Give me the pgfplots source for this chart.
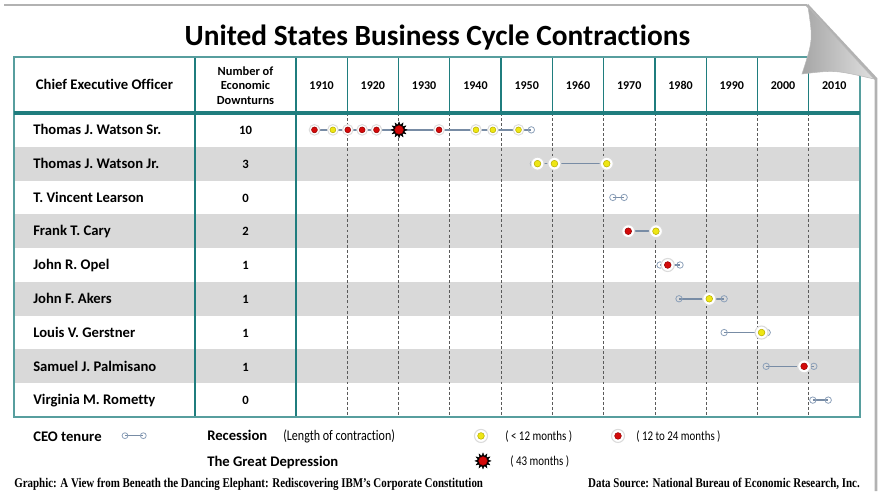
\documentclass[border=0pt]{standalone}
\usepackage{fontspec}
\setmainfont[Ligatures={TeX,NoCommon}]{Carlito}
\newfontfamily\condfont[FakeStretch=0.82,Ligatures={TeX,NoCommon}]{Carlito}
\newfontfamily\footfont[FakeStretch=0.82]{Liberation Serif}
\usepackage{pgfplots}
\pgfplotsset{compat=1.18}
\usepackage{pgfplotstable}

\definecolor{tealc}{RGB}{31,125,126}
\definecolor{rowgray}{RGB}{217,217,217}
\definecolor{gridc}{RGB}{90,90,90}
\definecolor{tenline}{RGB}{120,140,165}
\definecolor{tencirc}{RGB}{140,160,185}
\definecolor{ydot}{RGB}{238,230,20}
\definecolor{ydotrim}{RGB}{185,175,0}
\definecolor{rdot}{RGB}{212,10,10}
\definecolor{rdotrim}{RGB}{150,0,0}

\pgfdeclareplotmark{burst}{%
  \pgfpathmoveto{\pgfpointpolar{0}{\pgfplotmarksize}}%
  \pgfpathlineto{\pgfpointpolar{15}{0.62*\pgfplotmarksize}}%
  \pgfpathlineto{\pgfpointpolar{30}{\pgfplotmarksize}}%
  \pgfpathlineto{\pgfpointpolar{45}{0.62*\pgfplotmarksize}}%
  \pgfpathlineto{\pgfpointpolar{60}{\pgfplotmarksize}}%
  \pgfpathlineto{\pgfpointpolar{75}{0.62*\pgfplotmarksize}}%
  \pgfpathlineto{\pgfpointpolar{90}{\pgfplotmarksize}}%
  \pgfpathlineto{\pgfpointpolar{105}{0.62*\pgfplotmarksize}}%
  \pgfpathlineto{\pgfpointpolar{120}{\pgfplotmarksize}}%
  \pgfpathlineto{\pgfpointpolar{135}{0.62*\pgfplotmarksize}}%
  \pgfpathlineto{\pgfpointpolar{150}{\pgfplotmarksize}}%
  \pgfpathlineto{\pgfpointpolar{165}{0.62*\pgfplotmarksize}}%
  \pgfpathlineto{\pgfpointpolar{180}{\pgfplotmarksize}}%
  \pgfpathlineto{\pgfpointpolar{195}{0.62*\pgfplotmarksize}}%
  \pgfpathlineto{\pgfpointpolar{210}{\pgfplotmarksize}}%
  \pgfpathlineto{\pgfpointpolar{225}{0.62*\pgfplotmarksize}}%
  \pgfpathlineto{\pgfpointpolar{240}{\pgfplotmarksize}}%
  \pgfpathlineto{\pgfpointpolar{255}{0.62*\pgfplotmarksize}}%
  \pgfpathlineto{\pgfpointpolar{270}{\pgfplotmarksize}}%
  \pgfpathlineto{\pgfpointpolar{285}{0.62*\pgfplotmarksize}}%
  \pgfpathlineto{\pgfpointpolar{300}{\pgfplotmarksize}}%
  \pgfpathlineto{\pgfpointpolar{315}{0.62*\pgfplotmarksize}}%
  \pgfpathlineto{\pgfpointpolar{330}{\pgfplotmarksize}}%
  \pgfpathlineto{\pgfpointpolar{345}{0.62*\pgfplotmarksize}}%
  \pgfpathclose
  \pgfusepathqfillstroke}

\pgfplotstableread{
year row
1917.2 1
1945.1 1
1948.4 1
1953.4 1
}\yellowA
\pgfplotstableread{
year row
1957.1 2
1960.4 2
1970.6 2
1980.2 4
1990.6 6
2000.8 7
1946.08 10.06
}\yellowB
\pgfplotstableread{
year row
1913.6 1
1920.1 1
1922.9 1
1925.7 1
1937.9 1
}\redA
\pgfplotstableread{
year row
1974.8 4
1982.5 5
2009.1 8
1972.80 10.06
}\redB
\pgfplotstableread{
year row
1930.1 1
1946.47 10.80
}\stardata

\pgfplotsset{
  tenure/.style={color=tenline, line width=1.1pt, mark=o, mark size=2.4pt,
    mark options={fill=white, draw=tencirc, line width=0.6pt}},
  haloA/.style={only marks, mark=*, mark size=4.0pt,
    mark options={fill=white, draw=black!14, line width=0.7pt}},
  haloB/.style={only marks, mark=*, mark size=4.9pt,
    mark options={fill=white, draw=black!14, line width=0.8pt}},
  ydots/.style={only marks, mark=*, mark size=2.5pt,
    mark options={fill=ydot, draw=ydotrim, line width=0.4pt}},
  rdots/.style={only marks, mark=*, mark size=2.5pt,
    mark options={fill=rdot, draw=rdotrim, line width=0.4pt}},
}

\begin{document}
\begin{tikzpicture}
\begin{axis}[scale only axis, width=634.5pt, height=270pt,
  xmin=1855, xmax=2020, ymin=-1.157, ymax=9.5, y dir=reverse,
  hide axis, clip=false]
% alternating rows
\fill[rowgray] (axis cs:1855,1.5) rectangle (axis cs:2020,2.5);
\fill[rowgray] (axis cs:1855,3.5) rectangle (axis cs:2020,4.5);
\fill[rowgray] (axis cs:1855,5.5) rectangle (axis cs:2020,6.5);
\fill[rowgray] (axis cs:1855,7.5) rectangle (axis cs:2020,8.5);
% grid
\pgfplotsinvokeforeach{1920,1930,1940,1950,1960,1970,1980,1990,2000,2010}{
  \draw[gridc, line width=0.5pt, dash pattern=on 2.2pt off 1.6pt] (axis cs:#1,0.5) -- (axis cs:#1,9.5);
  \draw[tealc, line width=0.9pt] (axis cs:#1,-1.157) -- (axis cs:#1,0.5);
}
\draw[tealc, line width=0.9pt] (axis cs:1890.3,-1.157) -- (axis cs:1890.3,9.5);
\draw[tealc, line width=0.9pt] (axis cs:1910,-1.157) -- (axis cs:1910,9.5);
\draw[tealc!75, line width=0.9pt] (axis cs:1855,-1.157) rectangle (axis cs:2020,9.5);
\draw[tealc, line width=2.4pt] (axis cs:1855,0.5) -- (axis cs:2020,0.5);
% CEO tenures
\addplot[tenure] coordinates {(1914.0,1) (1955.9,1)};
\addplot[tenure] coordinates {(1956.3,2) (1970.8,2)};
\addplot[tenure] coordinates {(1971.8,3) (1974.0,3)};
\addplot[tenure] coordinates {(1974.6,4) (1980.2,4)};
\addplot[tenure] coordinates {(1981.0,5) (1984.9,5)};
\addplot[tenure] coordinates {(1984.7,6) (1993.5,6)};
\addplot[tenure] coordinates {(1993.5,7) (2001.9,7)};
\addplot[tenure] coordinates {(2001.7,8) (2011.0,8)};
\addplot[tenure] coordinates {(2010.8,9) (2013.8,9)};
% legend tenure symbol
\addplot[tenure, line width=0.8pt, mark size=2.2pt] coordinates {(1876.65,10.053) (1880.22,10.053)};
% recessions
\addplot[haloA] table[x=year, y=row] {\yellowA};
\addplot[haloA] table[x=year, y=row] {\redA};
\addplot[haloB] table[x=year, y=row] {\yellowB};
\addplot[haloB] table[x=year, y=row] {\redB};
\addplot[ydots, mark size=2.2pt] table[x=year, y=row] {\yellowA};
\addplot[rdots, mark size=2.2pt] table[x=year, y=row] {\redA};
\addplot[ydots] table[x=year, y=row] {\yellowB};
\addplot[rdots] table[x=year, y=row] {\redB};
% great depression
\addplot[only marks, mark=burst, mark size=6pt, mark options={fill=black, draw=black, line width=0.3pt}] table[x=year, y=row] {\stardata};
\addplot[only marks, mark=*, mark size=3.3pt, mark options={fill=rdot, draw=rdotrim, line width=0.3pt}] table[x=year, y=row] {\stardata};
\end{axis}

\begin{scope}[shift={(-10.5pt,312.75pt)}, x=0.75pt, y=-0.75pt]
% page frame and curl
\draw[gray!60, line width=2.2pt] (4,5) -- (807,5);
\fill[white] (806,1) -- (881,1) -- (881,80) -- (876,80) -- cycle;
\draw[gray!60, line width=2.2pt] (807,5) -- (876,79) -- (876,491);
\shade[left color=gray!70, right color=gray!25, draw=gray!55, line width=0.4pt]
  (808,7) .. controls (813,40) .. (802,74) .. controls (835,70) .. (874,79) -- cycle;
% title
\node[anchor=base, inner sep=0, font=\fontsize{22}{26}\selectfont\bfseries] at (437.5,45.5) {United States Business Cycle Contractions};
% header
\node[anchor=base, inner sep=0, font=\fontsize{11}{12}\selectfont\bfseries] at (104.5,89.3) {Chief Executive Officer};
\node[anchor=base, inner sep=0, font=\fontsize{9.3}{10}\selectfont\bfseries] at (245.5,75) {Number of};
\node[anchor=base, inner sep=0, font=\fontsize{9.3}{10}\selectfont\bfseries] at (245.5,89.5) {Economic};
\node[anchor=base, inner sep=0, font=\fontsize{9.3}{10}\selectfont\bfseries] at (245.5,104) {Downturns};
\foreach \k in {0,...,10}{
  \pgfmathsetmacro\xx{321.6+51.27*\k}
  \pgfmathtruncatemacro\yr{1910+10*\k}
  \node[anchor=base, inner sep=0, font=\fontsize{9}{10}\selectfont\bfseries] at (\xx,89.3) {\yr};
}
% names and counts
\foreach \nm/\cnt/\bl in {Thomas J. Watson Sr./10/134.5, Thomas J. Watson Jr./3/168.3, T. Vincent Learson/0/202.1, Frank T. Cary/2/235.8, John R. Opel/1/269.6, John F. Akers/1/303.4, Louis V. Gerstner/1/337.2, Samuel J. Palmisano/1/371.0, Virginia M. Rometty/0/404.7}{
  \node[anchor=base west, inner sep=0, font=\fontsize{11}{12}\selectfont\bfseries] at (33,\bl) {\nm};
  \node[anchor=base, inner sep=0, font=\fontsize{9.5}{11}\selectfont\bfseries] at (245.5,\bl) {\cnt};
}
% legend
\node[anchor=base west, inner sep=0, font=\fontsize{11}{13}\selectfont\bfseries] at (33,441.5) {CEO tenure};
\node[anchor=base west, inner sep=0, font=\fontsize{11}{13}\selectfont\bfseries] at (207,440.5) {Recession};
\node[anchor=base west, inner sep=0, font=\condfont\fontsize{11}{12}\selectfont] at (283,440.5) {(Length of contraction)};
\node[anchor=base west, inner sep=0, font=\condfont\fontsize{10}{11}\selectfont] at (505,440) {( < 12 months )};
\node[anchor=base west, inner sep=0, font=\condfont\fontsize{10}{11}\selectfont] at (636,440) {( 12 to 24 months )};
\node[anchor=base west, inner sep=0, font=\fontsize{11}{13}\selectfont\bfseries] at (207,466.5) {The Great Depression};
\node[anchor=base west, inner sep=0, font=\condfont\fontsize{10}{11}\selectfont] at (510,465.5) {( 43 months )};
% footer
\node[anchor=base west, inner sep=0, font=\footfont\bfseries\fontsize{10}{11}\selectfont] at (14,487) {Graphic: A View from Beneath the Dancing Elephant: Rediscovering IBM’s Corporate Constitution};
\node[anchor=base east, inner sep=0, font=\footfont\bfseries\fontsize{10}{11}\selectfont] at (860,487) {Data Source: National Bureau of Economic Research, Inc.};
\pgfresetboundingbox
\path[use as bounding box] (0,0) rectangle (881,497);
\end{scope}
\end{tikzpicture}
\end{document}
